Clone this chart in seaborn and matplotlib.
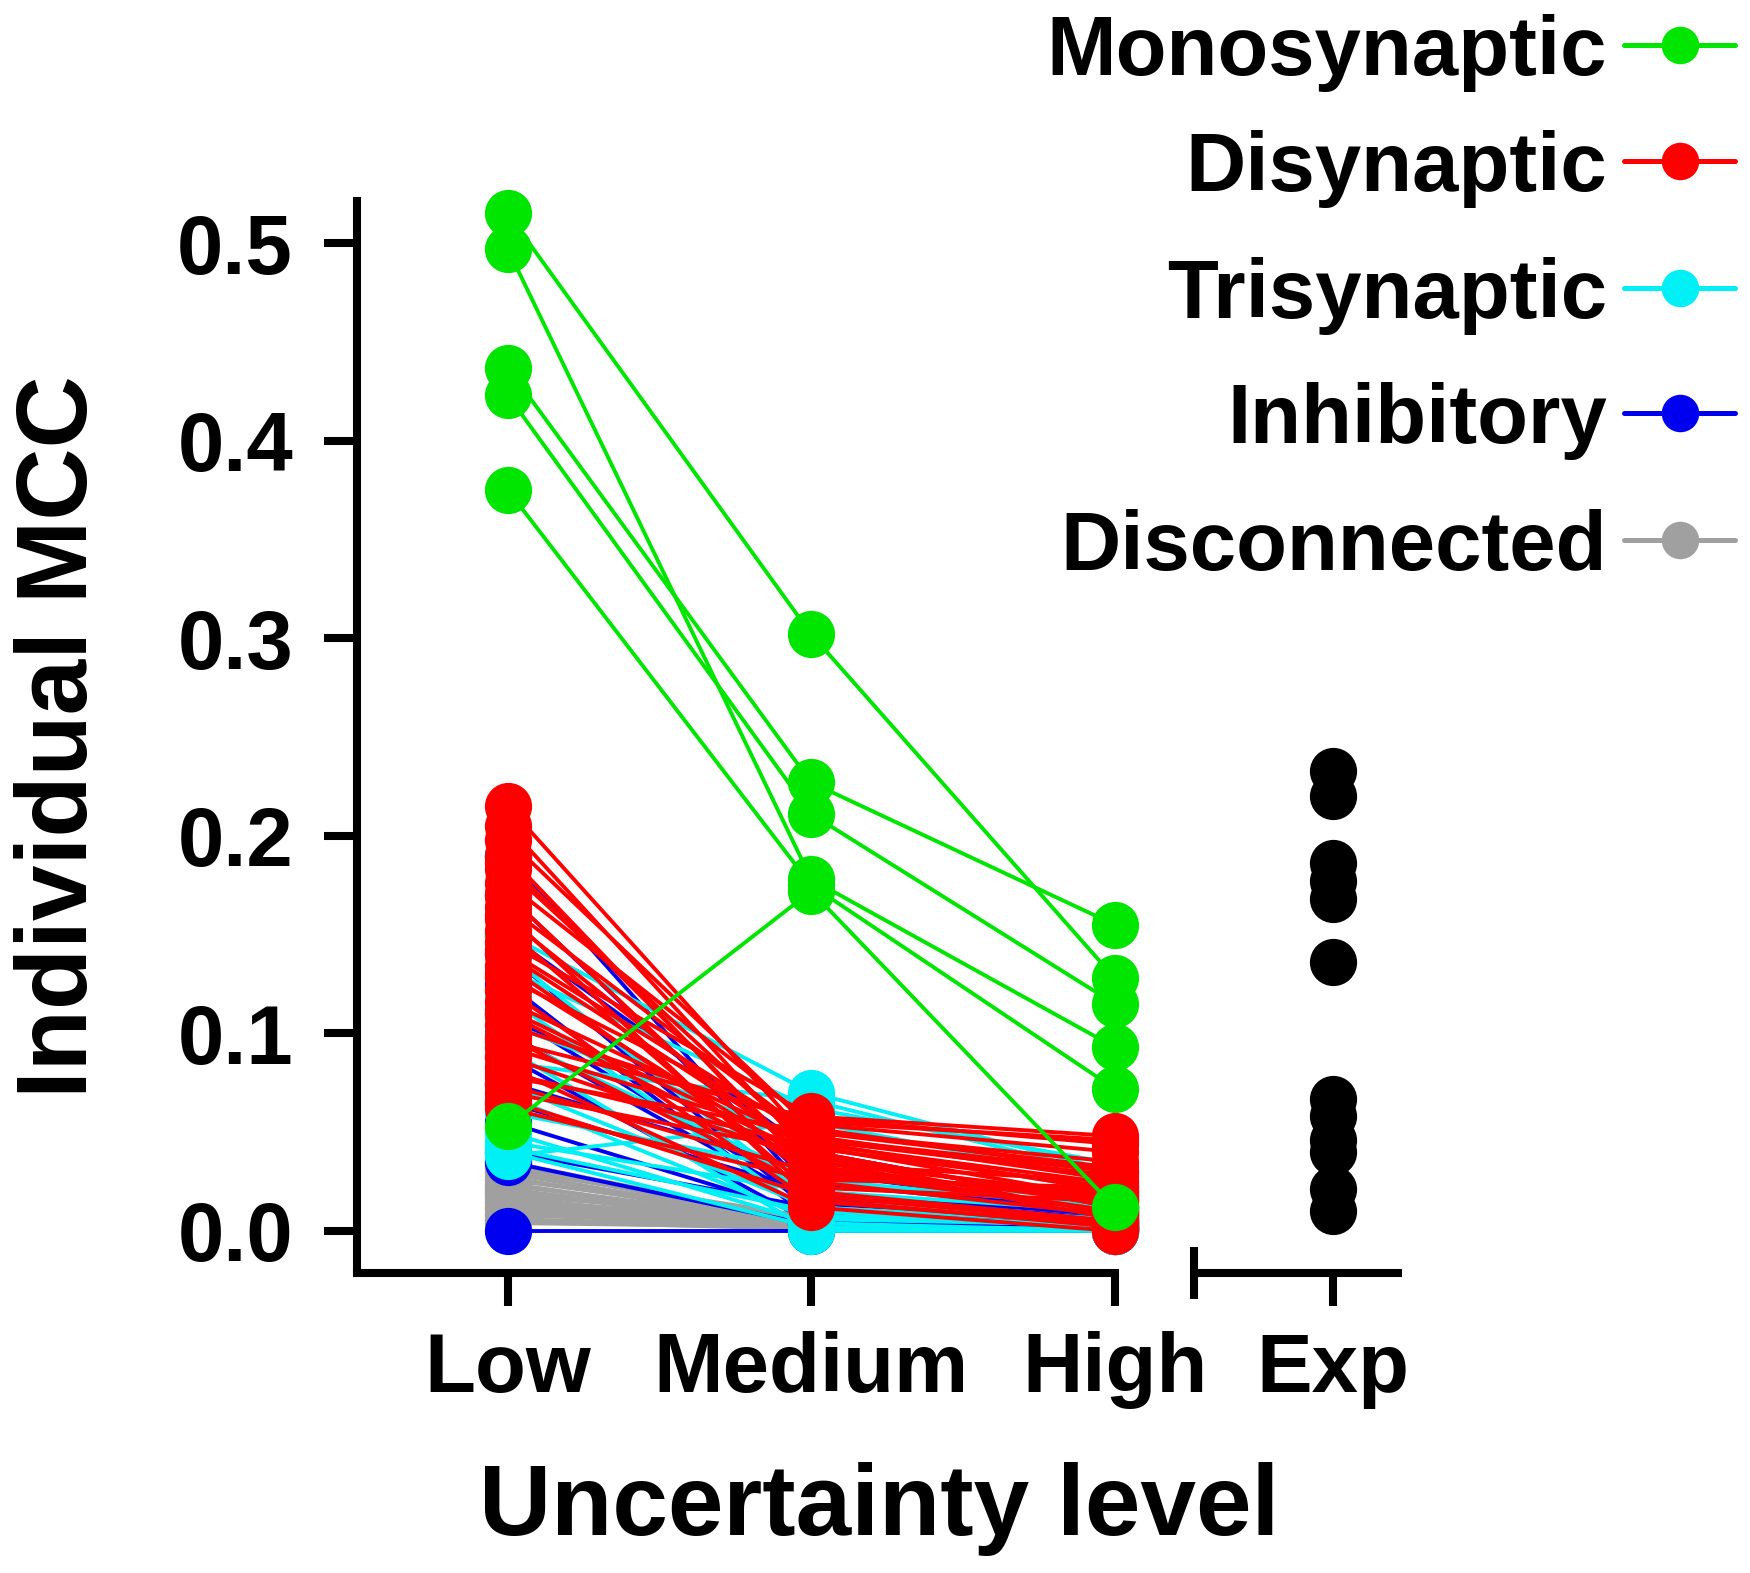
import numpy as np
import pandas as pd
import matplotlib
matplotlib.use("Agg")
import matplotlib.pyplot as plt
from matplotlib.lines import Line2D
import seaborn as sns

# categories
levels = ["Low", "Medium", "High"]
types = ["Monosynaptic", "Disynaptic", "Trisynaptic", "Inhibitory", "Disconnected"]
colors = {"Monosynaptic": "#00e600", "Disynaptic": "#ff0000", "Trisynaptic": "#00f0f5",
          "Inhibitory": "#0000f0", "Disconnected": "#a0a0a0"}

# MCC per pair at Low / Medium / High uncertainty
mono_low = [0.515, 0.497, 0.437, 0.423, 0.375, 0.053]
mono_med = [0.302, 0.178, 0.227, 0.211, 0.175, 0.172]
mono_high = [0.128, 0.093, 0.155, 0.115, 0.072, 0.012]

di_low = [0.215, 0.205, 0.198, 0.190, 0.183, 0.176, 0.170, 0.164, 0.158, 0.152, 0.146, 0.140,
          0.134, 0.128, 0.122, 0.116, 0.110, 0.104, 0.098, 0.093, 0.088, 0.083, 0.078, 0.074,
          0.070, 0.066, 0.062, 0.186, 0.142, 0.112, 0.096, 0.160, 0.130, 0.080]
di_med = [0.045, 0.038, 0.052, 0.030, 0.042, 0.055, 0.025, 0.048, 0.035, 0.020, 0.058, 0.040,
          0.028, 0.050, 0.015, 0.044, 0.032, 0.054, 0.022, 0.046, 0.036, 0.012, 0.050, 0.030,
          0.040, 0.018, 0.026, 0.033, 0.047, 0.038, 0.057, 0.016, 0.034, 0.043]
di_high = [0.020, 0.015, 0.030, 0.010, 0.022, 0.046, 0.008, 0.026, 0.018, 0.005, 0.048, 0.012,
           0.020, 0.032, 0.003, 0.024, 0.010, 0.040, 0.015, 0.028, 0.006, 0.000, 0.035, 0.018,
           0.012, 0.004, 0.022, 0.014, 0.030, 0.008, 0.044, 0.002, 0.025, 0.016]

tri_low = [0.150, 0.132, 0.118, 0.105, 0.092, 0.085, 0.074, 0.060, 0.050, 0.045, 0.040, 0.038,
           0.140, 0.098, 0.068, 0.042]
tri_med = [0.070, 0.062, 0.008, 0.045, 0.000, 0.066, 0.012, 0.030, 0.004, 0.020, 0.002, 0.055,
           0.015, 0.026, 0.006, 0.010]
tri_high = [0.030, 0.034, 0.002, 0.020, 0.000, 0.028, 0.004, 0.015, 0.000, 0.010, 0.001, 0.025,
            0.006, 0.012, 0.003, 0.002]

inh_low = [0.190, 0.140, 0.125, 0.100, 0.088, 0.065, 0.055, 0.040, 0.000, 0.035, 0.170, 0.110,
           0.150, 0.075]
inh_med = [0.018, 0.010, 0.006, 0.014, 0.004, 0.020, 0.008, 0.012, 0.000, 0.003, 0.024, 0.016,
           0.040, 0.030]
inh_high = [0.006, 0.004, 0.002, 0.005, 0.001, 0.008, 0.003, 0.002, 0.000, 0.001, 0.010, 0.004,
            0.012, 0.009]

disc_low = [0.035, 0.033, 0.032, 0.030, 0.029, 0.027, 0.026, 0.024, 0.023, 0.021, 0.020, 0.018,
            0.017, 0.015, 0.014, 0.012, 0.011, 0.009, 0.008, 0.006, 0.005, 0.004, 0.031, 0.019]
disc_med = [0.004, 0.003, 0.005, 0.002, 0.004, 0.003, 0.005, 0.002, 0.004, 0.003, 0.002, 0.006,
            0.001, 0.006, 0.003, 0.004, 0.002, 0.005, 0.003, 0.002, 0.001, 0.002, 0.007, 0.004]
disc_high = [0.002, 0.018, 0.001, 0.012, 0.002, 0.000, 0.020, 0.001, 0.008, 0.001, 0.000, 0.015,
             0.001, 0.004, 0.022, 0.003, 0.010, 0.001, 0.006, 0.002, 0.000, 0.001, 0.016, 0.005]

# experimental values
exp_vals = [0.233, 0.220, 0.186, 0.177, 0.168, 0.136, 0.067, 0.058, 0.046, 0.040, 0.021, 0.010]

series = {
    "Monosynaptic": (mono_low, mono_med, mono_high),
    "Disynaptic": (di_low, di_med, di_high),
    "Trisynaptic": (tri_low, tri_med, tri_high),
    "Inhibitory": (inh_low, inh_med, inh_high),
    "Disconnected": (disc_low, disc_med, disc_high),
}

level_pos = {"Low": 1, "Medium": 2, "High": 3}
exp_pos = 3.718

rows = []
for t, cols in series.items():
    for i in range(len(cols[0])):
        for lev, vals in zip(levels, cols):
            rows.append({"type": t, "unit": f"{t}_{i}", "x": level_pos[lev], "mcc": vals[i]})
df = pd.DataFrame(rows)

sns.set_style("ticks")
plt.rcParams['font.family'] = ['Liberation Sans', 'DejaVu Sans']
plt.rcParams['font.weight'] = 'bold'
plt.rcParams['axes.labelweight'] = 'bold'
plt.rcParams['text.color'] = 'black'
plt.rcParams['axes.labelcolor'] = 'black'
plt.rcParams['xtick.color'] = 'black'
plt.rcParams['ytick.color'] = 'black'

fig = plt.figure(figsize=(17.5, 15.73), dpi=100)
ax = fig.add_axes([0.204, 0.1907, 0.597, 0.6815])

draw_order = ["Disconnected", "Inhibitory", "Trisynaptic", "Disynaptic", "Monosynaptic"]
sns.lineplot(data=df, x="x", y="mcc", hue="type", units="unit", estimator=None,
             hue_order=draw_order, palette=colors, marker="o", markersize=34,
             markeredgewidth=0, linewidth=2.8, sort=False, legend=False, ax=ax)

sns.scatterplot(x=[exp_pos] * len(exp_vals), y=exp_vals, color="black", s=34 ** 2,
                linewidth=0, ax=ax, zorder=5)

for ln in ax.lines:
    ln.set_clip_on(False)
for c in ax.collections:
    c.set_clip_on(False)

ax.set_xlim(0.503, 3.946)
ax.set_ylim(-0.0213, 0.5213)
ax.set_yticks([0.0, 0.1, 0.2, 0.3, 0.4, 0.5])
ax.set_yticklabels(["0.0", "0.1", "0.2", "0.3", "0.4", "0.5"])
ax.set_xticks([1, 2, 3, exp_pos])
ax.set_xticklabels(["Low", "Medium", "High", "Exp"])

sns.despine(ax=ax)
for s in ["left", "bottom"]:
    ax.spines[s].set_linewidth(5.8)
    ax.spines[s].set_color("black")
ax.spines["bottom"].set_bounds(0.503, 3)
ax.tick_params(axis="both", length=24, width=5.8, labelsize=60, color="black",
               labelcolor="black")
ax.tick_params(axis="y", pad=22)
ax.tick_params(axis="x", pad=18)

# broken axis: second segment for Exp
tr = ax.get_xaxis_transform()
ax.plot([3.26, 3.946], [0, 0], transform=tr, color="black", lw=5.8,
        solid_capstyle="butt", clip_on=False)
ax.plot([3.26, 3.26], [-0.024, 0.024], transform=tr, color="black", lw=5.8,
        solid_capstyle="butt", clip_on=False)

ax.set_xlabel("Uncertainty level", fontsize=72, labelpad=38, color="black")
ax.set_ylabel("Individual MCC", fontsize=72, labelpad=50, color="black")

# legend on the right, text right aligned with handle after it
W, H = 1750, 1573
leg_y = [45, 161, 288, 413, 540]
for t, yc in zip(types, leg_y):
    fy = 1 - yc / H
    fig.text(1607 / W, 1 - (yc + 30) / H, t, ha="right", va="baseline",
             fontsize=60, fontweight="bold", color="black")
    fig.add_artist(Line2D([1624 / W, 1680 / W, 1735 / W], [fy, fy, fy],
                          transform=fig.transFigure, color=colors[t], lw=3.6,
                          marker="o", markersize=27, markevery=[1], markeredgewidth=0))

fig.savefig("out.png", dpi=100)
